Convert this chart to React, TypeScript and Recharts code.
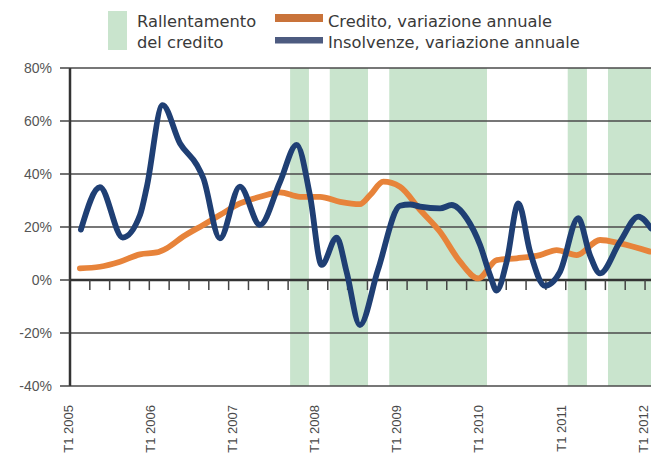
import React from "react";
import {
  LineChart,
  Line,
  XAxis,
  YAxis,
  ReferenceArea,
  ReferenceLine,
} from "recharts";

// x is measured in quarters from T1 2005 (tick marks at every quarter)
const insolvenzeX = [0.55, 1.51, 2.66, 3.53, 3.87, 4.67, 5.55, 6.39, 6.72, 7.56, 8.57, 9.58, 10.59, 11.43, 12.1, 12.69, 13.45, 13.95, 14.62, 15.53, 16.64, 17.15, 17.65, 18.66, 19.25, 20.0, 20.68, 21.18, 21.52, 22.02, 22.61, 23.2, 23.95, 24.71, 25.63, 26.22, 26.73, 27.74, 28.66, 29.3];
const insolvenzeY = [19, 35, 16, 24.5, 35, 66, 51.5, 43.5, 38.5, 15.7, 35.2, 20.8, 37, 51, 32, 5.7, 16, 3, -17, 3.8, 28, 28.5, 27.7, 27, 28.3, 23.3, 13.2, 1.9, -4, 6.9, 28.9, 10.7, -2.2, 3.1, 23.3, 9.4, 2.5, 14.5, 23.9, 19.5];

const creditoX = [0.5, 1.51, 2.52, 3.53, 4.37, 4.88, 5.71, 6.72, 7.56, 8.57, 9.58, 10.59, 11.6, 12.61, 13.62, 14.62, 15.13, 15.8, 16.64, 17.65, 18.66, 19.67, 20.59, 21.52, 22.53, 23.7, 24.54, 25.55, 26.73, 27.74, 29.25];
const creditoY = [4.4, 5.0, 6.9, 9.7, 10.4, 12, 16.4, 20.8, 24.5, 28.9, 31.4, 33.1, 31.4, 31.4, 29.5, 28.6, 32, 37.1, 35.2, 26.5, 18.2, 6.9, 0.6, 7.5, 8.2, 9.4, 11.3, 9.4, 15.1, 13.8, 10.7];

// credit slowdown periods (quarter index start/end)
const bandStart = [11.1, 13.1, 16.1, 25.1, 27.13];
const bandEnd = [12.05, 15.03, 21.03, 26.07, 29.3];

const yearLabels = ["T1 2005", "T1 2006", "T1 2007", "T1 2008", "T1 2009", "T1 2010", "T1 2011", "T1 2012"];
const LABEL_STEP = 4.14;
const yTicks = [-40, -20, 0, 20, 40, 60, 80];
const quarterTicks = Array.from({ length: 29 }, (_, i) => i + 1);

const X_MAX = 29.3;

const insolvenze = insolvenzeX.map((x, i) => ({ x, v: insolvenzeY[i] }));
const credito = creditoX.map((x, i) => ({ x, v: creditoY[i] }));

const BLUE = "#1f3f74";
const ORANGE = "#e7833a";
const GREEN = "#c9e4cd";

const XTick = (props: any) => {
  const { x, y, payload } = props;
  const idx = Math.round(payload.value / LABEL_STEP);
  const tx = x + 3;
  const ty = y + 19;
  return (
    <text
      x={tx}
      y={ty}
      transform={`rotate(-90, ${tx}, ${ty})`}
      textAnchor="end"
      fontSize={13}
      fontFamily="Liberation Sans, Arial, sans-serif"
      fill="#4a4a4a"
    >
      {yearLabels[idx]}
    </text>
  );
};

export default function App() {
  return (
    <div style={{ position: "absolute", left: 0, top: 0, width: 651, height: 454, background: "#fff" }}>
      <LineChart width={651} height={454} margin={{ top: 68, right: 0, bottom: 0, left: 0 }}>
        <XAxis
          dataKey="x"
          type="number"
          domain={[0, X_MAX]}
          allowDataOverflow
          ticks={yearLabels.map((_, i) => i * LABEL_STEP)}
          tick={<XTick />}
          tickLine={false}
          axisLine={false}
          tickSize={0}
          tickMargin={0}
          height={68}
          interval={0}
        />
        <YAxis
          type="number"
          domain={[-40, 80]}
          ticks={yTicks}
          width={70}
          tickSize={10}
          tickMargin={8}
          tickFormatter={(v: number) => `${v}%`}
          tick={{ fontSize: 14, fill: "#555", fontFamily: "Liberation Sans, Arial, sans-serif" }}
          tickLine={{ stroke: "#444", strokeWidth: 1.5 }}
          axisLine={{ stroke: "#333", strokeWidth: 2.5 }}
          interval={0}
        />
        {bandStart.map((s, i) => (
          <ReferenceArea key={"b" + i} x1={s} x2={bandEnd[i]} fill={GREEN} fillOpacity={1} stroke="none" ifOverflow="hidden" />
        ))}
        {yTicks
          .filter((t) => t !== 0)
          .map((t) => (
            <ReferenceLine key={"g" + t} y={t} stroke="#4a4a4a" strokeWidth={1.5} />
          ))}
        <ReferenceLine y={0} stroke="#333" strokeWidth={2.5} />
        {quarterTicks.map((k) => (
          <ReferenceLine
            key={"t" + k}
            segment={[
              { x: k, y: 0 },
              { x: k, y: -3.8 },
            ]}
            stroke="#444"
            strokeWidth={1.5}
          />
        ))}
        <Line
          data={credito}
          dataKey="v"
          type="monotone"
          stroke={ORANGE}
          strokeWidth={5.8}
          dot={false}
          activeDot={false}
          isAnimationActive={false}
          strokeLinecap="round"
        />
        <Line
          data={insolvenze}
          dataKey="v"
          type="monotone"
          stroke={BLUE}
          strokeWidth={5.8}
          dot={false}
          activeDot={false}
          isAnimationActive={false}
          strokeLinecap="round"
        />
      </LineChart>
      <svg
        width={651}
        height={60}
        style={{ position: "absolute", left: 0, top: 0 }}
        fontFamily="DejaVu Sans, sans-serif"
        fontSize={16.3}
        fill="#3a3a3a"
      >
        <rect x={108} y={11} width={19} height={39} fill={GREEN} />
        <text x={137} y={26.5}>Rallentamento</text>
        <text x={137} y={47.5}>del credito</text>
        <rect x={275} y={14} width={48} height={8} fill="#c9733a" />
        <rect x={275} y={37} width={48} height={6.5} fill="#4d5b80" />
        <text x={328} y={26.5}>Credito, variazione annuale</text>
        <text x={328} y={47.5}>Insolvenze, variazione annuale</text>
      </svg>
    </div>
  );
}
